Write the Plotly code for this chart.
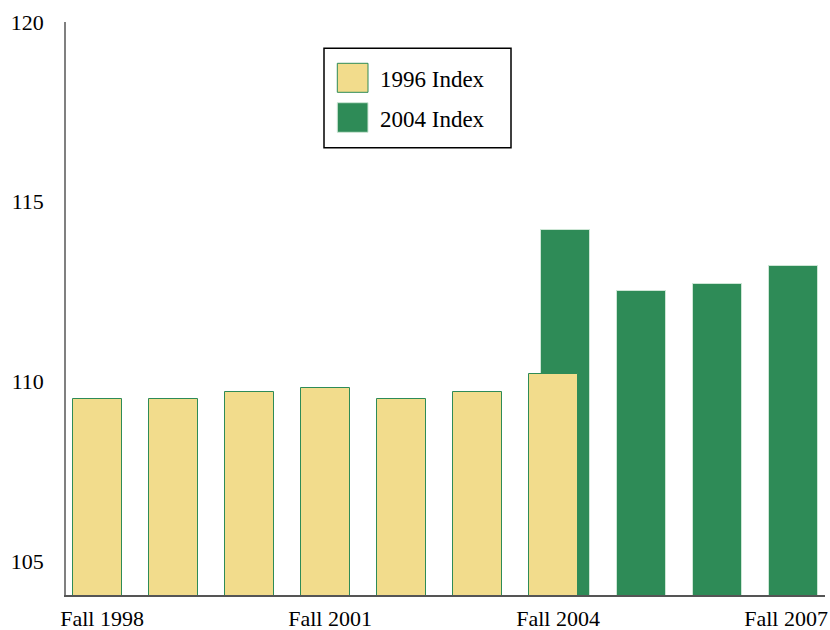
import plotly.graph_objects as go

categories = ["Fall 1998", "Fall 1999", "Fall 2000", "Fall 2001", "Fall 2002",
              "Fall 2003", "Fall 2004", "Fall 2005", "Fall 2006", "Fall 2007"]
index_1996 = [109.5, 109.5, 109.7, 109.8, 109.5, 109.7, 110.2, None, None, None]
index_2004 = [None, None, None, None, None, None, 114.2, 112.5, 112.7, 113.2]
x_tick_labels = ["Fall 1998", "Fall 2001", "Fall 2004", "Fall 2007"]
y_ticks = [105, 110, 115, 120]
series_names = ["1996 Index", "2004 Index"]

YELLOW = "#F2DC8C"
GREEN = "#2E8B57"
FONT = "Liberation Serif"

fig = go.Figure()
fig.add_trace(go.Bar(
    x=categories, y=index_2004, name=series_names[1],
    marker=dict(color=GREEN, line=dict(color="#CDE6D5", width=1)),
    width=0.65, offset=-0.228, showlegend=False,
))
fig.add_trace(go.Bar(
    x=categories, y=index_1996, name=series_names[0],
    marker=dict(color=YELLOW, line=dict(color=GREEN, width=1)),
    width=0.64, offset=-0.378, showlegend=False,
))

W, H = 830, 630
L, R, T, B = 66, 5, 22, 35
pw, ph = W - L - R, H - T - B

def px(x):
    return (x - L) / pw

def py(y):
    return (H - B - y) / ph

shapes = [
    dict(type="rect", xref="paper", yref="paper",
         x0=px(324), x1=px(511), y0=py(147.7), y1=py(48.3),
         line=dict(color="black", width=1.5), fillcolor="white", layer="above"),
    dict(type="rect", xref="paper", yref="paper",
         x0=px(337.3), x1=px(368), y0=py(92.3), y1=py(63.3),
         line=dict(color=GREEN, width=1), fillcolor=YELLOW, layer="above"),
    dict(type="rect", xref="paper", yref="paper",
         x0=px(337.3), x1=px(368), y0=py(132.3), y1=py(102.7),
         line=dict(color="#CDE6D5", width=1), fillcolor=GREEN, layer="above"),
]
annotations = [
    dict(xref="paper", yref="paper", x=px(378), y=py(79), text=series_names[0],
         showarrow=False, xanchor="left", yanchor="middle",
         font=dict(family=FONT, size=23, color="black")),
    dict(xref="paper", yref="paper", x=px(378), y=py(119), text=series_names[1],
         showarrow=False, xanchor="left", yanchor="middle",
         font=dict(family=FONT, size=23, color="black")),
]

fig.update_layout(
    width=W, height=H,
    margin=dict(l=L, r=R, t=T, b=B, autoexpand=False),
    barmode="overlay",
    plot_bgcolor="white", paper_bgcolor="white",
    font=dict(family=FONT, size=22, color="black"),
    shapes=shapes, annotations=annotations,
    showlegend=False,
    bargap=0,
)
fig.update_xaxes(
    type="category", range=[-0.474, 9.513],
    tickvals=x_tick_labels, ticktext=x_tick_labels,
    showgrid=False, showline=True, linecolor="#555555", linewidth=1.5,
    ticks="", ticklabelstandoff=3, zeroline=False, automargin=False,
)
fig.update_yaxes(
    range=[104.05, 120], tickvals=y_ticks,
    showgrid=False, showline=True, linecolor="#808080", linewidth=1.5,
    ticks="", ticklabelstandoff=16, zeroline=False, automargin=False,
)

fig.write_html(
    "out.html",
    config={"displayModeBar": False},
    post_script="document.body.style.margin='0';document.body.style.overflow='hidden';",
)
